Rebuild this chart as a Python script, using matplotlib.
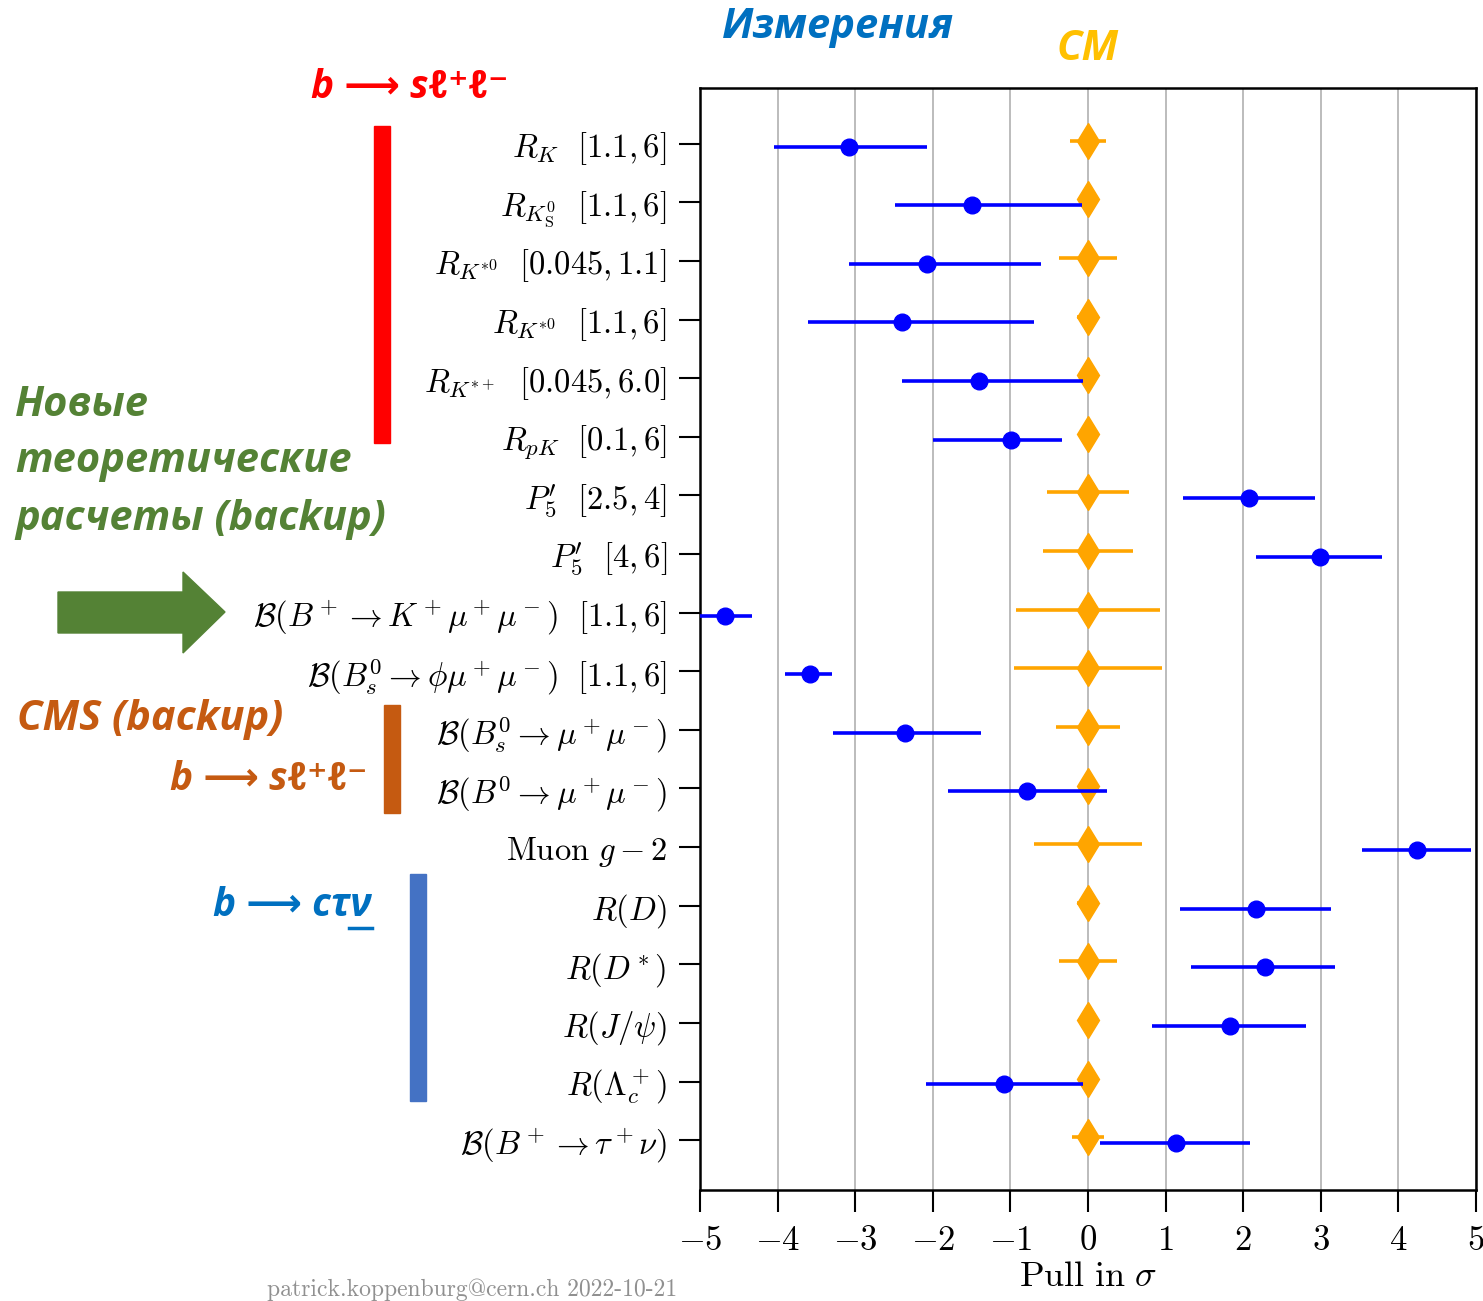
import matplotlib
matplotlib.use("Agg")
import matplotlib.pyplot as plt
from matplotlib.patches import Rectangle, Polygon
import numpy as np

plt.rcParams['mathtext.fontset'] = 'cm'
plt.rcParams['axes.unicode_minus'] = True

labels = [
    r'$R_K\ \ [1.1, 6]$',
    r'$R_{K^0_{\rm S}}\ \ [1.1, 6]$',
    r'$R_{K^{*0}}\ \ [0.045, 1.1]$',
    r'$R_{K^{*0}}\ \ [1.1, 6]$',
    r'$R_{K^{*+}}\ \ [0.045, 6.0]$',
    r'$R_{pK}\ \ [0.1, 6]$',
    r"$P_5'\ \ [2.5, 4]$",
    r"$P_5'\ \ [4, 6]$",
    r'$\mathcal{B}(B^+\to K^+\mu^+\mu^-)\ \ [1.1, 6]$',
    r'$\mathcal{B}(B^0_s\to \phi\mu^+\mu^-)\ \ [1.1, 6]$',
    r'$\mathcal{B}(B^0_s\to \mu^+\mu^-)$',
    r'$\mathcal{B}(B^0\to \mu^+\mu^-)$',
    r'$\mathrm{Muon}\ g-2$',
    r'$R(D)$',
    r'$R(D^*)$',
    r'$R(J/\psi)$',
    r'$R(\Lambda_c^+)$',
    r'$\mathcal{B}(B^+\to \tau^+\nu)$',
]
meas = [-3.08, -1.50, -2.08, -2.40, -1.40, -0.99, 2.07, 2.99, -4.68, -3.58,
        -2.36, -0.79, 4.24, 2.17, 2.28, 1.83, -1.08, 1.14]
meas_lo = [0.97, 0.99, 1.00, 1.21, 1.00, 1.01, 0.84, 0.83, 0.35, 0.32,
           0.93, 1.01, 0.71, 0.99, 0.95, 1.01, 1.01, 0.99]
meas_hi = [1.00, 1.42, 1.48, 1.71, 1.34, 0.66, 0.85, 0.80, 0.35, 0.28,
           0.98, 1.04, 0.69, 0.96, 0.90, 0.98, 1.02, 0.95]
sm = [0.0] * 18
sm_err = [0.23, 0.0, 0.37, 0.14, 0.0, 0.0, 0.53, 0.58, 0.93, 0.95,
          0.41, 0.0, 0.70, 0.14, 0.37, 0.0, 0.0, 0.21]
xticks = [-5, -4, -3, -2, -1, 0, 1, 2, 3, 4, 5]

W, H = 1483, 1301
fig = plt.figure(figsize=(W / 100, H / 100), dpi=100)
ax = fig.add_axes([700 / W, 1 - 1190 / H, 776 / W, (1190 - 88) / H])

y = np.arange(len(labels))
ax.errorbar(sm, y - 0.05, xerr=sm_err, fmt='d', color='#FFA500', ms=18,
            elinewidth=2.6, capsize=0, zorder=3)
ax.errorbar(meas, y + 0.05, xerr=[meas_lo, meas_hi], fmt='o', color='#0000FF',
            ms=12, elinewidth=2.6, capsize=0, zorder=4)

ax.set_xlim(-5, 5)
ax.set_ylim(17.85, -0.95)
ax.set_xticks(xticks)
ax.set_xticklabels([r'$%d$' % v if v >= 0 else r'$-%d$' % (-v) for v in xticks])
ax.set_yticks(y)
ax.set_yticklabels(labels)
ax.xaxis.grid(True, color='#b0b0b0', lw=1.2)
ax.set_axisbelow(True)
ax.tick_params(axis='y', direction='out', length=15, width=1.5, pad=9, labelsize=23.5)
ax.tick_params(axis='x', direction='out', length=16, width=1.5, pad=8, labelsize=25)
for s in ax.spines.values():
    s.set_linewidth(1.8)
ax.set_xlabel(r'$\mathrm{Pull\ in}\ \sigma$', fontsize=26)
ax.xaxis.set_label_coords(0.5, (1190 - 1276) / 1102)
ax.xaxis.label.set_va('center')

# overlay annotations in pixel coordinates
ov = fig.add_axes([0, 0, 1, 1], zorder=5)
ov.set_xlim(0, W)
ov.set_ylim(H, 0)
ov.axis('off')
ov.patch.set_alpha(0)

fam = ['Open Sans', 'DejaVu Sans']
kw = dict(fontweight='bold', fontstyle='italic', family=fam)
fs = 30

ov.text(838, 28, 'Измерения', color='#0070C0', fontsize=fs, ha='center', va='center', **kw)
ov.text(1088, 50, 'СМ', color='#FFC000', fontsize=fs, ha='center', va='center', **kw)
ov.text(410, 88, 'b ⟶ sℓ⁺ℓ⁻', color='#FF0000', fontsize=28, ha='center', va='center', **kw)
ov.add_patch(Rectangle((374, 126), 16, 317, color='#FF0000'))

ov.text(15, 405, 'Новые', color='#548235', fontsize=fs, ha='left', va='center', **kw)
ov.text(15, 462, 'теоретические', color='#548235', fontsize=fs, ha='left', va='center', **kw)
ov.text(15, 520, 'расчеты (backup)', color='#548235', fontsize=fs, ha='left', va='center', **kw)
ov.add_patch(Polygon([(58, 592), (183, 592), (183, 572), (225, 612), (183, 653),
                      (183, 633), (58, 633)], closed=True, color='#548235'))

ov.text(17, 720, 'CMS (backup)', color='#C55A11', fontsize=fs, ha='left', va='center', **kw)
ov.text(367, 780, 'b ⟶ sℓ⁺ℓ⁻', color='#C55A11', fontsize=28, ha='right', va='center', **kw)
ov.add_patch(Rectangle((384, 705), 16, 108, color='#C55A11'))

ov.text(372, 905, 'b ⟶ cτν', color='#0070C0', fontsize=28, ha='right', va='center', **kw)
ov.plot([349, 372], [928, 928], color='#0070C0', lw=2.5)
ov.add_patch(Rectangle((410, 874), 16, 227, color='#4472C4'))

ov.text(677, 1290, 'patrick.koppenburg@cern.ch 2022-10-21', color='#909090',
        fontsize=17, ha='right', va='center', family='cmr10')

fig.savefig('out.png', dpi=100)
